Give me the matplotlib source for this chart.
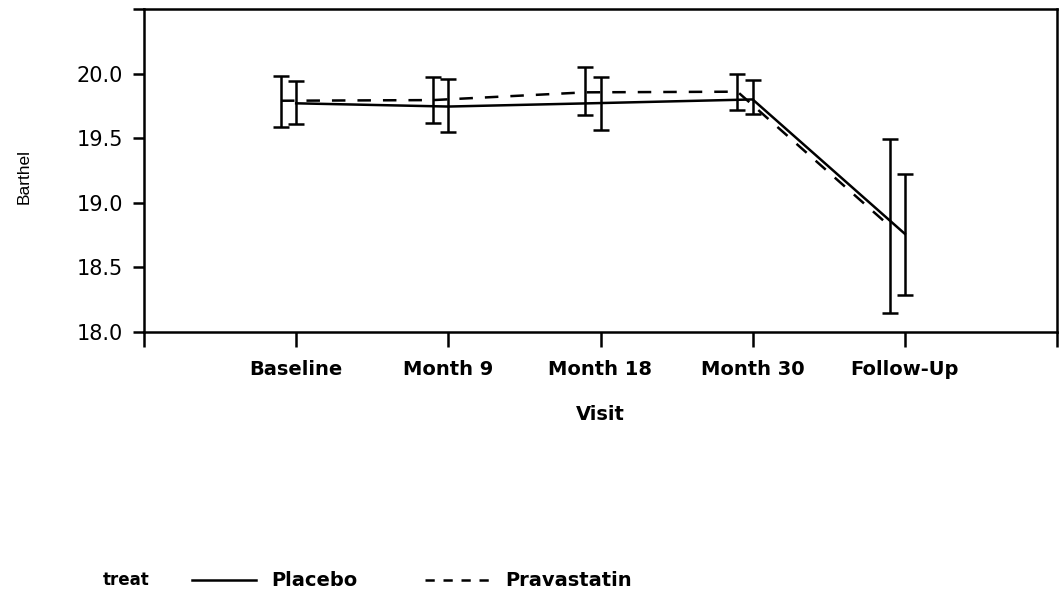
import matplotlib
matplotlib.use("Agg")
import matplotlib.pyplot as plt
from matplotlib.lines import Line2D

categories = ['Baseline', 'Month 9', 'Month 18', 'Month 30', 'Follow-Up']
placebo_mean = [19.77, 19.745, 19.772, 19.80, 18.76]
placebo_upper = [19.94, 19.96, 19.97, 19.95, 19.22]
placebo_lower = [19.61, 19.55, 19.56, 19.69, 18.29]
prava_mean = [19.79, 19.795, 19.855, 19.86, 18.82]
prava_upper = [19.985, 19.97, 20.05, 20.0, 19.49]
prava_lower = [19.59, 19.62, 19.68, 19.72, 18.15]
yticks = [18.0, 18.5, 19.0, 19.5, 20.0, 20.5]
ytick_labels = ['18.0', '18.5', '19.0', '19.5', '20.0', '']

plt.rcParams['font.family'] = ['DejaVu Sans']

fig = plt.figure(figsize=(10.63, 5.94), dpi=100)
ax = fig.add_axes([144/1063, 1 - 332/594, (1057-144)/1063, (332-9)/594])

lw = 1.8
x_pl = [i + 1 for i in range(len(categories))]
x_pr = [i + 1 - 0.1 for i in range(len(categories))]

def yerr(mean, lo, hi):
    return [[m - l for m, l in zip(mean, lo)], [h - m for m, h in zip(mean, hi)]]

ax.errorbar(x_pl, placebo_mean, yerr=yerr(placebo_mean, placebo_lower, placebo_upper),
            color='black', lw=lw, elinewidth=lw, capsize=5.5, capthick=lw, ls='-')
eb = ax.errorbar(x_pr, prava_mean, yerr=yerr(prava_mean, prava_lower, prava_upper),
                 color='black', lw=lw, elinewidth=lw, capsize=5.5, capthick=lw, ls='--')
eb[0].set_dashes((5.4, 4.8))

ax.set_xlim(0, 6)
ax.set_ylim(18.0, 20.5)
ax.set_xticks(range(0, 7))
ax.set_xticklabels([''] + categories + [''], fontsize=14, fontweight='bold')
ax.set_yticks(yticks)
ax.set_yticklabels(ytick_labels, fontsize=15)
ax.tick_params(axis='x', length=11, width=lw, pad=9, colors='black')
ax.tick_params(axis='y', length=8, width=lw, pad=7, colors='black')
for s in ax.spines.values():
    s.set_linewidth(lw)

fig.text(600/1063, 1 - 414/594, 'Visit', ha='center', va='center', fontsize=14, fontweight='bold')
fig.text(24/1063, 1 - 177/594, 'Barthel', ha='center', va='center', rotation=90,
         fontsize=12.5, family=['Liberation Sans', 'DejaVu Sans'])

fig.text(103/1063, 1 - 580/594, 'treat', ha='left', va='center', fontsize=12, fontweight='bold')
h1 = Line2D([], [], color='black', lw=lw, ls='-')
h2 = Line2D([], [], color='black', lw=lw, dashes=(3.7, 3.5))
fig.legend([h1, h2], ['Placebo', 'Pravastatin'], loc='center left',
           bbox_to_anchor=(192/1063, 1 - 581/594), ncol=2, frameon=False,
           handlelength=3.3, handletextpad=0.8, columnspacing=3.45,
           prop={'size': 14, 'weight': 'bold'}, borderaxespad=0, borderpad=0)

fig.savefig('out.png', dpi=100)
